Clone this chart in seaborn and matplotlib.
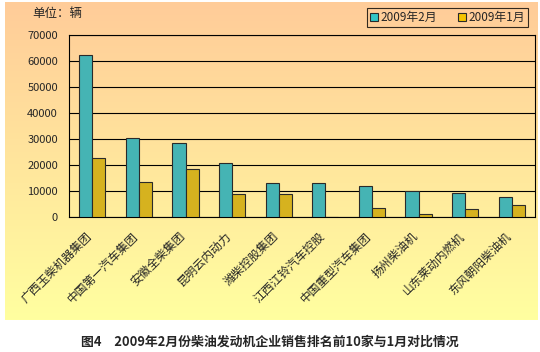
import numpy as np
import pandas as pd
import seaborn as sns
import matplotlib.pyplot as plt
import matplotlib.transforms as mtransforms
from matplotlib.patches import Patch

companies = ['广西玉柴机器集团', '中国第一汽车集团', '安徽全柴集团', '昆明云内动力', '潍柴控股集团',
             '江西江铃汽车控股', '中国重型汽车集团', '扬州柴油机', '山东莱动内燃机', '东风朝阳柴油机']
feb = [62500, 30500, 28600, 20700, 13000, 13000, 11900, 9900, 9400, 7800]
jan = [22700, 13400, 18500, 8900, 8900, 0, 3300, 1100, 2900, 4700]
months = ['2009年2月', '2009年1月']
colors = ['#33C6C6', '#F5C400']

df = pd.DataFrame({
    'company': companies * 2,
    'month': [months[0]] * len(companies) + [months[1]] * len(companies),
    'value': feb + jan,
})

sns.set_style('white')
plt.rcParams['font.family'] = ['Noto Sans CJK SC', 'DejaVu Sans']

fig = plt.figure(figsize=(5.4, 3.52), dpi=100)
W, H = 540, 352

# gradient background of the chart area
bg = fig.add_axes([5 / W, 1 - 320 / H, 533 / W, 318 / H])
top = np.array([255, 204, 153]) / 255
bot = np.array([255, 255, 160]) / 255
t = np.linspace(0, 1, 200)[:, None]
grad = top[None, :] * (1 - t) + bot[None, :] * t
bg.imshow(grad[:, None, :], aspect='auto', extent=[0, 1, 0, 1])
bg.axis('off')

ax = fig.add_axes([69 / W, 1 - 217 / H, (535 - 69) / W, (217 - 35) / H])
ax.set_facecolor('none')
sns.barplot(data=df, x='company', y='value', hue='month', palette=colors,
            width=0.56, gap=0, edgecolor='#2a2a2a', linewidth=0.8,
            legend=False, ax=ax, zorder=3)

ax.set_ylim(0, 70000)
ax.set_xlim(-0.5, len(companies) - 0.5)
ax.set_yticks(range(0, 70001, 10000))
ax.set_yticklabels([str(v) for v in range(0, 70001, 10000)], fontsize=8)
ax.yaxis.grid(True, color='black', linewidth=0.8, zorder=1)
ax.set_axisbelow(True)
ax.set_xlabel('')
ax.set_ylabel('')
for s in ax.spines.values():
    s.set_color('black')
    s.set_linewidth(0.8)

ax.set_xticks(range(len(companies)))
ax.set_xticklabels(companies, rotation=45, ha='right', rotation_mode='anchor', fontsize=8.5)
ax.tick_params(axis='x', length=0, pad=9)
ax.tick_params(axis='y', length=0, pad=8)
shift = mtransforms.ScaledTranslation(-7 / 100, 0, fig.dpi_scale_trans)
for lbl in ax.get_xticklabels():
    lbl.set_transform(lbl.get_transform() + shift)
ax.set_xticks(np.arange(0.5, len(companies) - 1, 1), minor=True)
ax.tick_params(axis='x', which='minor', direction='in', length=3, color='black', width=0.8)

fig.text(32 / W, 1 - 14 / H, '单位：辆', fontsize=9, va='center', ha='left')

handles = [Patch(facecolor=c, edgecolor='#2a2a2a', linewidth=0.8) for c in colors]
leg = fig.legend(handles, months, loc='upper right', bbox_to_anchor=(534 / W, 1 - 2 / H),
                 ncol=2, fontsize=8.5, frameon=True, fancybox=False,
                 handlelength=0.7, handleheight=0.7, handletextpad=0.2,
                 columnspacing=1.8, borderpad=0.25)
leg.get_frame().set_edgecolor('black')
leg.get_frame().set_facecolor('none')
leg.get_frame().set_linewidth(0.8)

fig.text(270 / W, 1 - 342 / H, '图4　2009年2月份柴油发动机企业销售排名前10家与1月对比情况',
         fontsize=9.3, fontweight='bold', ha='center', va='center')

fig.savefig('out.png', dpi=100)
